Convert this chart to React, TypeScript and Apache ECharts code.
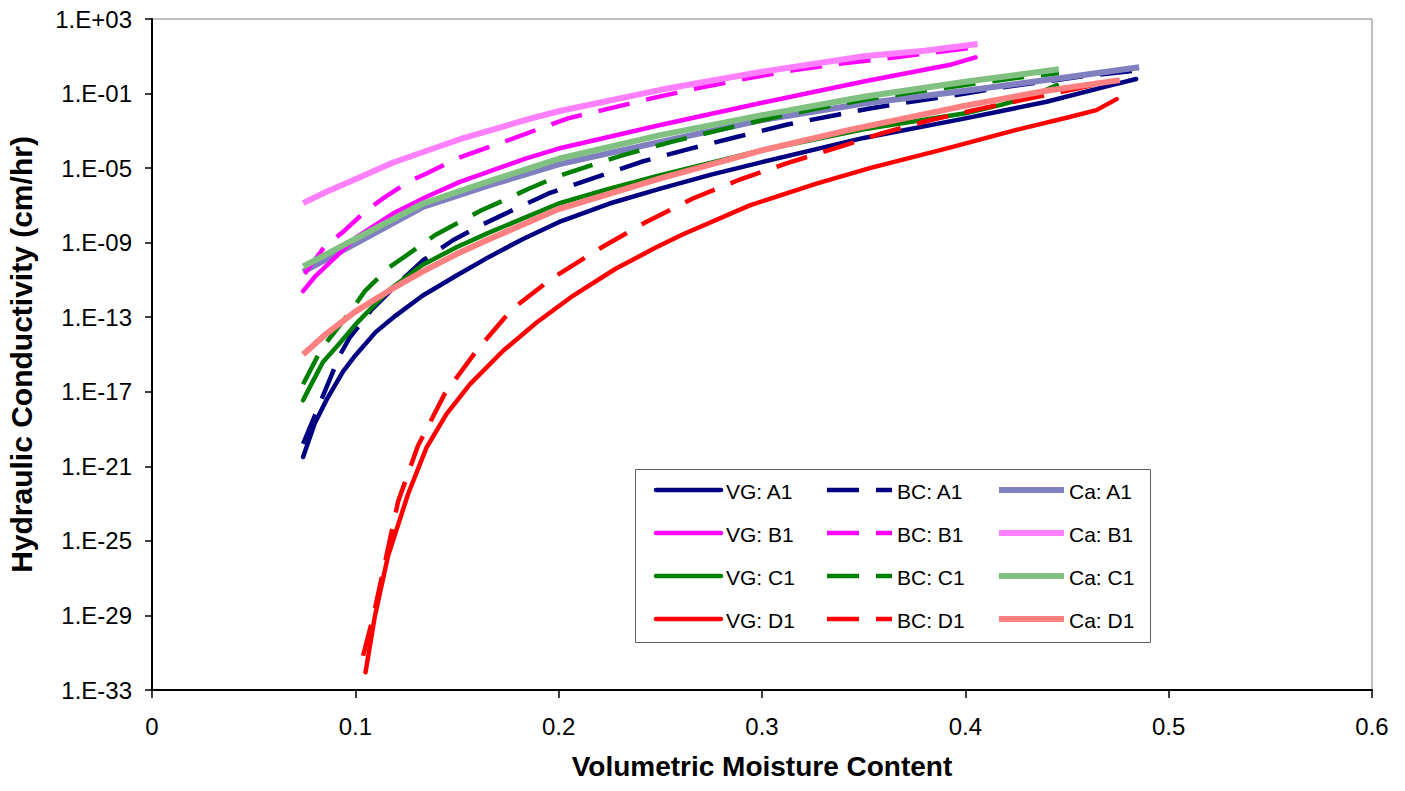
import React, { useEffect, useRef } from "react";
import * as echarts from "echarts";

// ---- Data (theta = volumetric moisture content, logK = log10 of K in cm/hr)
const vgA1Theta = [0.0743, 0.08, 0.086, 0.094, 0.1, 0.11, 0.12, 0.133, 0.15, 0.166, 0.1825, 0.2, 0.225, 0.25, 0.275, 0.3, 0.35, 0.4, 0.44, 0.4685, 0.484];
const vgA1LogK = [-20.5, -18.7, -17.4, -15.9, -15.05, -13.8, -12.9, -11.85, -10.75, -9.75, -8.8, -7.9, -6.9, -6.1, -5.35, -4.68, -3.38, -2.33, -1.44, -0.64, -0.22];

const bcA1Theta = [0.0743, 0.08, 0.0923, 0.0972, 0.108, 0.12, 0.1334, 0.148, 0.163, 0.179, 0.195, 0.22, 0.2407, 0.2653, 0.288, 0.313, 0.336, 0.353, 0.369, 0.385, 0.4, 0.4175, 0.433, 0.456, 0.485];
const bcA1LogK = [-19.8, -18.3, -15.05, -14.1, -12.6, -11.3, -9.94, -8.87, -8.0, -7.17, -6.36, -5.43, -4.66, -3.94, -3.32, -2.65, -2.16, -1.8, -1.51, -1.25, -1.0, -0.68, -0.45, -0.1, 0.25];

const caA1Theta = [0.0743, 0.1, 0.1333, 0.166, 0.2, 0.25, 0.3, 0.35, 0.4, 0.45, 0.4855];
const caA1LogK = [-10.57, -9.05, -7.08, -5.92, -4.8, -3.59, -2.42, -1.53, -0.85, -0.13, 0.41];

const vgB1Theta = [0.0743, 0.08, 0.09, 0.1, 0.1185, 0.135, 0.1514, 0.1677, 0.184, 0.2, 0.25, 0.3, 0.35, 0.392, 0.405];
const vgB1LogK = [-11.6, -10.84, -9.8, -8.75, -7.44, -6.54, -5.74, -5.11, -4.48, -3.95, -2.69, -1.49, -0.35, 0.53, 0.94];

const bcB1Theta = [0.0751, 0.085, 0.094, 0.1055, 0.1136, 0.126, 0.135, 0.15, 0.159, 0.173, 0.2046, 0.2456, 0.268, 0.293, 0.316, 0.34, 0.365, 0.406];
const bcB1LogK = [-10.66, -9.19, -8.42, -7.26, -6.63, -5.74, -5.29, -4.48, -4.13, -3.59, -2.33, -1.26, -0.72, -0.18, 0.26, 0.62, 0.94, 1.5];

const caB1Theta = [0.0743, 0.0858, 0.1, 0.1186, 0.1514, 0.1842, 0.2, 0.25, 0.3, 0.35, 0.38, 0.406];
const caB1LogK = [-6.88, -6.27, -5.6, -4.7, -3.45, -2.4, -1.95, -0.8, 0.17, 1.0, 1.3, 1.66];

const vgC1Theta = [0.0743, 0.0776, 0.0841, 0.0923, 0.1, 0.108, 0.117, 0.133, 0.15, 0.166, 0.1825, 0.2, 0.225, 0.25, 0.3, 0.35, 0.4, 0.417, 0.432, 0.445];
const vgC1LogK = [-17.46, -16.75, -15.4, -14.4, -13.4, -12.5, -11.5, -10.2, -9.23, -8.45, -7.7, -6.9, -6.1, -5.38, -4.04, -2.92, -2.06, -1.62, -1.17, -0.54];

const bcC1Theta = [0.0743, 0.0833, 0.089, 0.0989, 0.1047, 0.1169, 0.1243, 0.1391, 0.1473, 0.162, 0.17, 0.185, 0.2005, 0.2317, 0.2555, 0.279, 0.304, 0.327, 0.351, 0.375, 0.4, 0.424, 0.446];
const bcC1LogK = [-16.6, -14.7, -13.9, -12.5, -11.6, -10.3, -9.75, -8.6, -8.12, -7.26, -6.88, -6.12, -5.4, -4.3, -3.59, -2.96, -2.33, -1.8, -1.32, -0.92, -0.54, -0.18, 0.1];

const caC1Theta = [0.0744, 0.1, 0.1333, 0.166, 0.2, 0.25, 0.3, 0.35, 0.4, 0.446];
const caC1LogK = [-10.28, -8.8, -6.9, -5.7, -4.5, -3.23, -2.16, -1.17, -0.37, 0.3];

const vgD1Theta = [0.105, 0.1095, 0.1161, 0.1259, 0.135, 0.1448, 0.1563, 0.1727, 0.189, 0.207, 0.228, 0.248, 0.2612, 0.294, 0.3268, 0.353, 0.3924, 0.425, 0.4498, 0.4645, 0.4744];
const vgD1LogK = [-32.05, -29.1, -25.8, -22.5, -20.0, -18.2, -16.6, -14.8, -13.3, -11.85, -10.4, -9.25, -8.55, -7.0, -5.83, -5.0, -3.9, -2.95, -2.3, -1.89, -1.3];

const bcD1Theta = [0.1038, 0.1087, 0.1153, 0.121, 0.1308, 0.144, 0.1596, 0.1768, 0.1956, 0.2202, 0.243, 0.266, 0.2883, 0.312, 0.3358, 0.3588, 0.383, 0.406, 0.4317, 0.4555, 0.4744];
const bcD1LogK = [-31.16, -29.1, -25.8, -22.9, -19.9, -17.1, -14.8, -12.6, -11.0, -9.31, -7.89, -6.63, -5.65, -4.75, -3.94, -3.14, -2.42, -1.85, -1.26, -0.72, -0.28];

const caD1Theta = [0.0743, 0.085, 0.1, 0.117, 0.133, 0.15, 0.166, 0.183, 0.2, 0.25, 0.3, 0.343, 0.4, 0.44, 0.476];
const caD1LogK = [-15.0, -13.95, -12.7, -11.55, -10.55, -9.6, -8.8, -8.0, -7.2, -5.55, -4.05, -2.95, -1.65, -0.85, -0.28];

const vgNames = ["VG: A1", "VG: B1", "VG: C1", "VG: D1"];
const bcNames = ["BC: A1", "BC: B1", "BC: C1", "BC: D1"];
const caNames = ["Ca: A1", "Ca: B1", "Ca: C1", "Ca: D1"];
const groupColors = ["#000080", "#FF00FF", "#008000", "#FF0000"];
const caColors = ["#8080C0", "#FF80FF", "#80C080", "#FF8080"];

const xTicks = { min: 0, max: 0.6, interval: 0.1 };
// y axis in decades (exponent of 10); ticks counted from min every 4 decades
const yTicks = { min: -33, max: 3, interval: 4 };

const FONT = "'Liberation Sans', Arial, Helvetica, sans-serif";

type Kind = "VG" | "BC" | "Ca";

function styleFor(kind: Kind, color: string): any {
  if (kind === "VG") return { width: 4.5, color, type: "solid", cap: "round", join: "round" };
  if (kind === "BC") return { width: 4.5, color, type: [32, 17], cap: "butt", join: "round" };
  return { width: 6, color, type: "solid", cap: "butt", join: "round" };
}

function mk(name: string, theta: number[], logK: number[], color: string, kind: Kind) {
  const data = theta.map((t, i) => [t, logK[i]]);
  return {
    name,
    type: "line",
    data,
    symbol: "none",
    showSymbol: false,
    smooth: false,
    itemStyle: { color },
    lineStyle: styleFor(kind, color),
    emphasis: { disabled: true },
    z: 2,
  };
}

function yLabel(v: number) {
  const e = Math.round(v);
  const s = e < 0 ? "-" : "+";
  return "1.E" + s + String(Math.abs(e)).padStart(2, "0");
}

// legend layout (drawn with graphic elements)
const legendRowsY = [490, 533, 576, 619];
const legendCols = [
  { x: 656, textX: 726, names: vgNames, kind: "VG" as Kind },
  { x: 827, textX: 897, names: bcNames, kind: "BC" as Kind },
  { x: 999, textX: 1069, names: caNames, kind: "Ca" as Kind },
];

function legendGraphics() {
  const els: any[] = [
    {
      type: "rect",
      z: 10,
      shape: { x: 635.5, y: 469.5, width: 515, height: 173 },
      style: { fill: "#fff", stroke: "#606060", lineWidth: 1 },
      silent: true,
    },
  ];
  legendCols.forEach((col) => {
    col.names.forEach((name, r) => {
      const y = legendRowsY[r];
      const color = col.kind === "Ca" ? caColors[r] : groupColors[r];
      const st = styleFor(col.kind, color);
      els.push({
        type: "line",
        z: 11,
        silent: true,
        shape: { x1: col.x, y1: y, x2: col.x + 65, y2: y },
        style: {
          stroke: color,
          lineWidth: st.width,
          lineCap: col.kind === "VG" ? "round" : "butt",
          lineDash: col.kind === "BC" ? [32, 17] : null,
        },
      });
      els.push({
        type: "text",
        z: 11,
        silent: true,
        x: col.textX,
        y: y + 1,
        style: {
          text: name,
          fill: "#000",
          font: "21px " + FONT,
          textAlign: "left",
          textVerticalAlign: "middle",
        },
      });
    });
  });
  return els;
}

export default function App() {
  const ref = useRef<HTMLDivElement>(null);
  useEffect(() => {
    if (!ref.current) return;
    const chart = echarts.init(ref.current, null, { renderer: "svg" });
    const series = [
      mk(vgNames[0], vgA1Theta, vgA1LogK, groupColors[0], "VG"),
      mk(bcNames[0], bcA1Theta, bcA1LogK, groupColors[0], "BC"),
      mk(caNames[0], caA1Theta, caA1LogK, caColors[0], "Ca"),
      mk(vgNames[1], vgB1Theta, vgB1LogK, groupColors[1], "VG"),
      mk(bcNames[1], bcB1Theta, bcB1LogK, groupColors[1], "BC"),
      mk(caNames[1], caB1Theta, caB1LogK, caColors[1], "Ca"),
      mk(vgNames[2], vgC1Theta, vgC1LogK, groupColors[2], "VG"),
      mk(bcNames[2], bcC1Theta, bcC1LogK, groupColors[2], "BC"),
      mk(caNames[2], caC1Theta, caC1LogK, caColors[2], "Ca"),
      mk(vgNames[3], vgD1Theta, vgD1LogK, groupColors[3], "VG"),
      mk(bcNames[3], bcD1Theta, bcD1LogK, groupColors[3], "BC"),
      mk(caNames[3], caD1Theta, caD1LogK, caColors[3], "Ca"),
    ];
    chart.setOption({
      animation: false,
      backgroundColor: "#fff",
      textStyle: { fontFamily: FONT },
      grid: {
        left: 152,
        right: 33,
        top: 19,
        bottom: 101,
        show: true,
        borderColor: "#808080",
        borderWidth: 1,
        backgroundColor: "transparent",
        containLabel: false,
        outerBoundsMode: "none",
      },
      xAxis: {
        type: "value",
        min: xTicks.min,
        max: xTicks.max,
        interval: xTicks.interval,
        name: "Volumetric Moisture Content",
        nameLocation: "middle",
        nameGap: 62,
        nameTextStyle: { fontFamily: FONT, fontSize: 28, fontWeight: "bold", color: "#000" },
        axisLine: { show: true, onZero: false, lineStyle: { color: "#000", width: 2 } },
        axisTick: { show: true, inside: false, length: 8, lineStyle: { color: "#000", width: 1.5 } },
        axisLabel: { margin: 24, fontSize: 24, color: "#000", fontFamily: FONT },
        splitLine: { show: false },
      },
      yAxis: {
        type: "value",
        min: yTicks.min,
        max: yTicks.max,
        interval: yTicks.interval,
        name: "Hydraulic Conductivity (cm/hr)",
        nameLocation: "middle",
        nameGap: 116,
        nameTextStyle: { fontFamily: FONT, fontSize: 30, fontWeight: "bold", color: "#000" },
        axisLine: { show: true, onZero: false, lineStyle: { color: "#000", width: 2 } },
        axisTick: { show: true, inside: false, length: 7, lineStyle: { color: "#000", width: 1.5 } },
        axisLabel: { margin: 20, fontSize: 24, color: "#000", fontFamily: FONT, formatter: yLabel },
        splitLine: { show: false },
      },
      graphic: legendGraphics(),
      series,
    });
    return () => chart.dispose();
  }, []);
  return (
    <div
      ref={ref}
      style={{ position: "absolute", left: 0, top: 0, width: 1405, height: 791, background: "#fff" }}
    />
  );
}
